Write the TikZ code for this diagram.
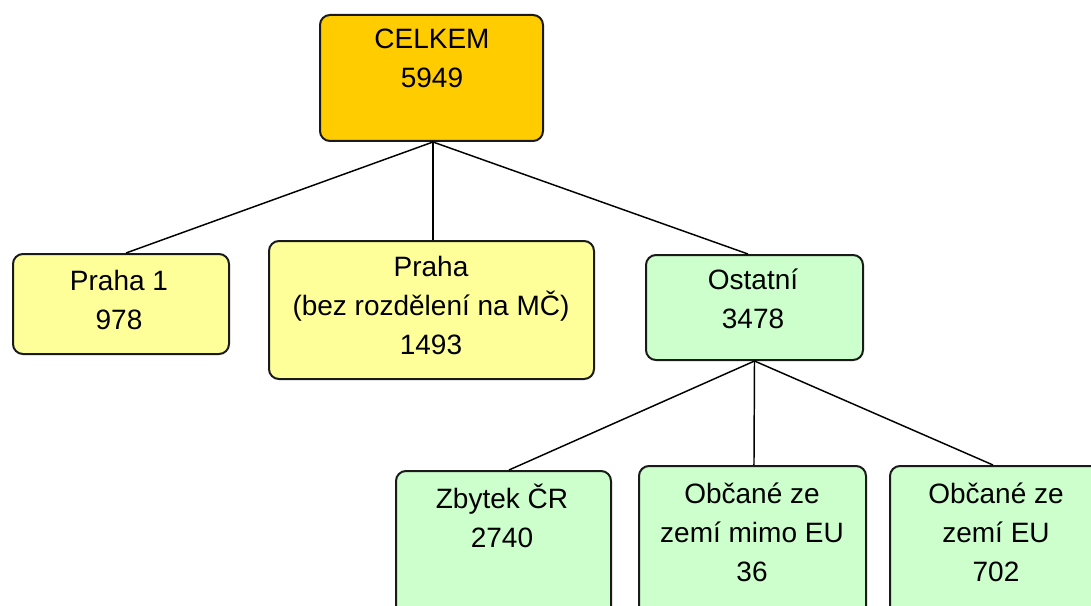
\documentclass[tikz,border=0pt]{standalone}
\usepackage{fontspec}
\setmainfont{Liberation Sans}
\definecolor{topfill}{HTML}{FFCC00}
\definecolor{yelfill}{HTML}{FFFF99}
\definecolor{grnfill}{HTML}{CCFFCC}
\definecolor{edgecol}{HTML}{1A1A1A}
\tikzset{
  boxbase/.style={draw=edgecol, line width=1.5pt, rounded corners=7.5pt, anchor=north west, inner sep=0pt},
  topbox/.style={boxbase, fill=topfill},
  yelbox/.style={boxbase, fill=yelfill},
  grnbox/.style={boxbase, fill=grnfill},
  lbl/.style={anchor=north, inner sep=0pt, align=center, font=\fontsize{21}{29.25}\selectfont},
  conn/.style={draw=black, line width=1.1pt}
}
\begin{document}
\begin{tikzpicture}[x=0.75pt, y=-0.75pt]
\clip (0,0) rectangle (1091,606);
\fill[white] (0,0) rectangle (1091,606);
% boxes
\node[topbox, minimum width=167.25pt, minimum height=94.5pt] (celkem) at (319,14) {};
\node[yelbox, minimum width=162pt, minimum height=75pt] (p1) at (12,253) {};
\node[yelbox, minimum width=243.75pt, minimum height=103.5pt] (praha) at (268,240) {};
\node[grnbox, minimum width=162.75pt, minimum height=78.75pt] (ost) at (645,254) {};
\node[grnbox, minimum width=161.25pt, minimum height=112.5pt] (zb) at (395,470) {};
\node[grnbox, minimum width=170.25pt, minimum height=116.25pt] (mimo) at (638,465) {};
\node[grnbox, minimum width=172.5pt, minimum height=116.25pt] (eu) at (889,465) {};
% connectors
\draw[conn] ([xshift=1.1pt]celkem.south) -- ([xshift=3.75pt]p1.north);
\draw[conn] ([xshift=1.1pt]celkem.south) -- ([xshift=1.1pt]praha.north);
\draw[conn] ([xshift=1.1pt]celkem.south) -- ([xshift=-4.9pt]ost.north);
\draw[conn] (ost.south) -- ([xshift=4.1pt]zb.north);
\draw[conn] (ost.south) -- ([xshift=1.1pt]mimo.north);
\draw[conn] (ost.south) -- ([xshift=-9pt]eu.north);
% labels
\node[lbl] (celkemT) at (432,20.7) {\strut CELKEM\\5949};
\node[lbl] (p1T) at (119,262.7) {\strut Praha 1\\978};
\node[lbl] (prahaT) at (431,248.7) {\strut Praha\\(bez rozdělení na MČ)\\1493};
\node[lbl] (ostT) at (753,261.7) {\strut Ostatní\\3478};
\node[lbl] (zbT) at (502,480.7) {\strut Zbytek ČR\\2740};
\node[lbl] (mimoT) at (752,475.7) {\strut Občané ze\\zemí mimo EU\\36};
\node[lbl] (euT) at (996,475.7) {\strut Občané ze\\zemí EU\\702};
\end{tikzpicture}
\end{document}
